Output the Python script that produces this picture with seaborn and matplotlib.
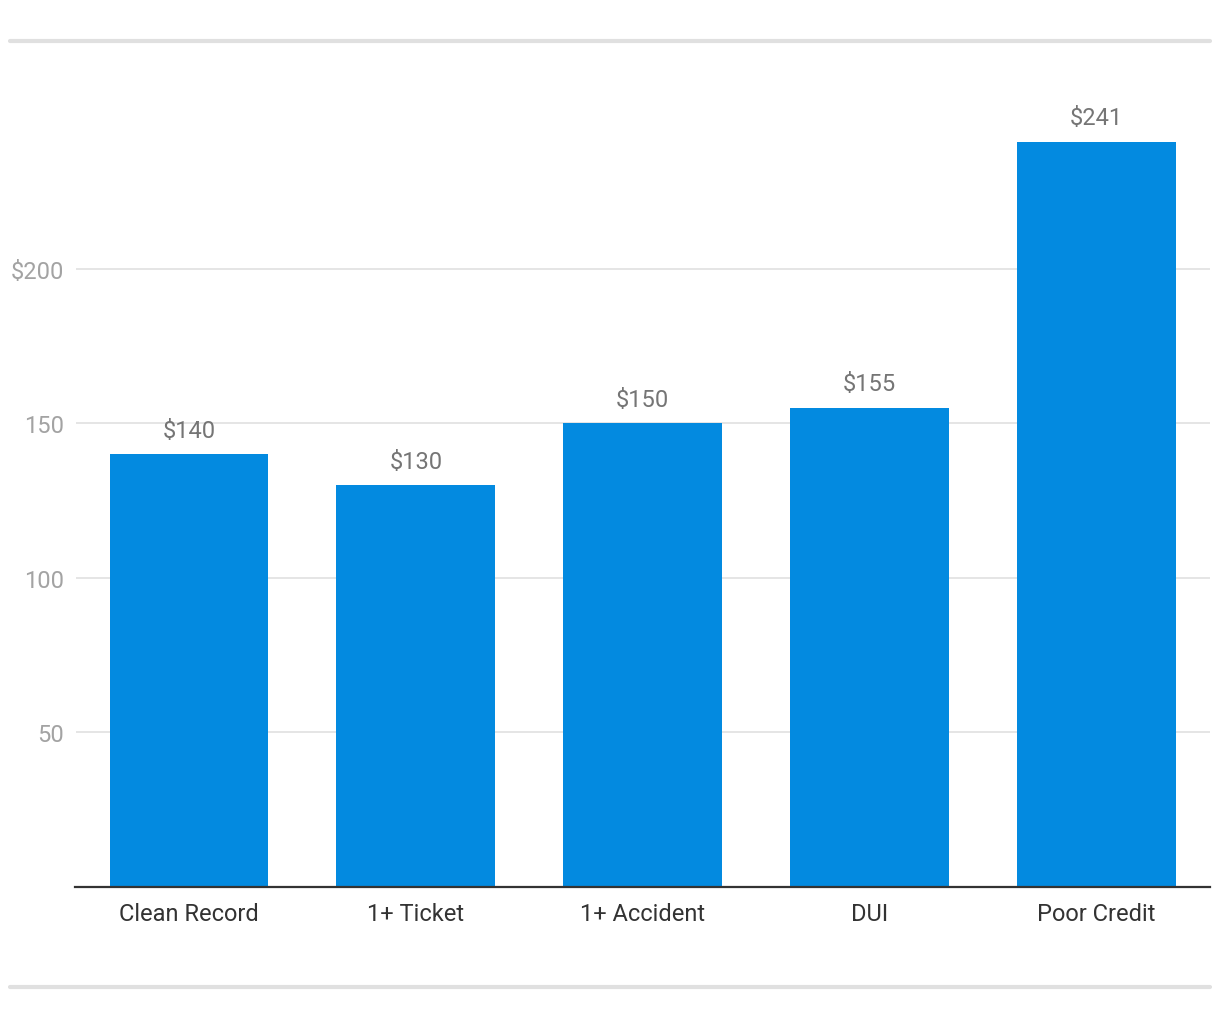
import matplotlib
matplotlib.use("Agg")
import matplotlib.pyplot as plt
import seaborn as sns
import pandas as pd
from matplotlib.lines import Line2D

categories = ["Clean Record", "1+ Ticket", "1+ Accident", "DUI", "Poor Credit"]
values = [140, 130, 150, 155, 241]
bar_labels = ["$140", "$130", "$150", "$155", "$241"]
y_ticks = [50, 100, 150, 200]
y_tick_labels = ["50", "100", "150", "$200"]

sns.set_theme(style="white")
plt.rcParams['font.family'] = ['Roboto', 'DejaVu Sans']

W, H = 1220, 1020
fig = plt.figure(figsize=(W / 100, H / 100), dpi=100)
ax = fig.add_axes([75.5 / W, (H - 888) / H, (1210 - 75.5) / W, (888 - 115) / H])

df = pd.DataFrame({"category": categories, "value": values})
sns.barplot(data=df, x="category", y="value", color="#038ae0", saturation=1,
            width=0.70, linewidth=0, ax=ax, zorder=3)

ax.set_ylim(0, 250)
ax.set_xlim(-0.5, len(categories) - 0.5)
ax.set_yticks(y_ticks)
ax.set_yticklabels(y_tick_labels)
ax.yaxis.grid(True, color="#e3e3e3", linewidth=1.3, zorder=0)
ax.set_axisbelow(True)
ax.set_xlabel("")
ax.set_ylabel("")
for s in ["top", "right", "left"]:
    ax.spines[s].set_visible(False)
ax.spines["bottom"].set_color("#333333")
ax.spines["bottom"].set_linewidth(1.6)
ax.spines["bottom"].set_zorder(5)
ax.tick_params(axis="y", length=0, pad=8.5, labelsize=17, labelcolor="#a3a3a3")
ax.tick_params(axis="x", length=0, pad=10.5, labelsize=17, labelcolor="#333333")

for container in ax.containers:
    ax.bar_label(container, labels=bar_labels, padding=9, fontsize=17, color="#757575")

for yy in [42, 988]:
    fig.add_artist(Line2D([10 / W, 1210 / W], [(H - yy) / H, (H - yy) / H],
                          transform=fig.transFigure, color="#e0e0e0", linewidth=3))

fig.savefig("out.png", dpi=100, facecolor="white")
